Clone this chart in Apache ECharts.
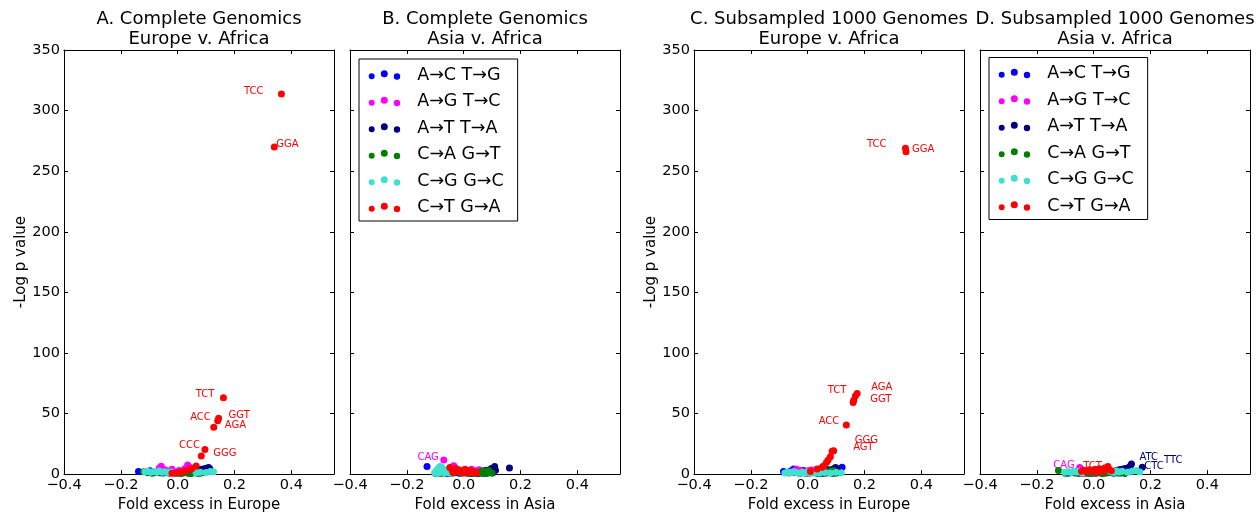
<!DOCTYPE html>
<html>
<head>
<meta charset="utf-8">
<title>Mutation type excess by population</title>
<script src="https://cdn.jsdelivr.net/npm/echarts@6/dist/echarts.min.js"></script>
<style>
  html, body { margin: 0; padding: 0; background: #fff; }
  #chart { width: 1257px; height: 518px; }
</style>
</head>
<body>
<div id="chart"></div>
<script>
// Mutation classes (strand-collapsed) and their marker colours
const typeKeys = ['AC', 'AG', 'AT', 'CA', 'CG', 'CT'];
const typeNames = ['A→C T→G', 'A→G T→C', 'A→T T→A', 'C→A G→T', 'C→G G→C', 'C→T G→A'];
const typeColors = ['#0000ff', '#ff00ff', '#000080', '#008000', '#40e0d0', '#ff0000'];

// Axis ranges and tick steps
const xMin = -0.4, xMax = 0.55, xStep = 0.2;
const yMin = 0, yMax = 350, yStep = 50;

// ---- A. Complete Genomics, Europe v. Africa : [fold excess, -log p]
const cgEurAC = [[-0.138,2.2],[-0.097,2.7],[-0.085,1.2],[-0.07,1.8],[-0.05,1.0],[-0.04,2.4],[-0.025,1.5],[-0.01,0.8],[0.0,1.6],[0.012,0.6],[0.02,2.0],[0.035,1.2],[0.045,0.7],[0.06,1.8],[0.075,1.0],[0.09,2.2]];
const cgEurAG = [[-0.058,6.5],[-0.065,4.8],[-0.045,3.5],[-0.03,2.4],[-0.02,4.0],[-0.005,1.8],[0.005,3.0],[0.015,2.2],[0.025,4.5],[0.035,7.5],[0.042,5.6],[0.05,3.8],[0.055,2.6],[0.03,1.4],[-0.012,1.0],[0.068,2.0]];
const cgEurAT = [[0.05,1.5],[0.06,2.5],[0.07,3.2],[0.075,2.0],[0.08,3.8],[0.085,2.8],[0.09,4.2],[0.095,3.0],[0.1,4.8],[0.105,3.6],[0.109,5.4],[0.1,2.2],[0.088,1.4],[0.07,1.0],[0.04,0.8],[0.113,4.4]];
const cgEurCA = [[-0.12,2.0],[-0.105,1.2],[-0.09,0.8],[-0.06,1.0],[-0.03,0.6],[0.0,0.8],[0.02,1.0],[0.04,0.9],[0.06,1.5],[0.065,0.9],[0.072,1.3],[0.08,0.7],[-0.045,1.4],[0.01,0.5],[0.05,0.6],[0.03,1.2]];
const cgEurCG = [[-0.115,2.0],[-0.105,2.4],[-0.095,1.6],[-0.085,2.2],[-0.075,1.8],[-0.065,2.6],[-0.055,1.5],[-0.045,2.0],[-0.035,1.3],[-0.025,1.8],[-0.015,1.0],[0.065,1.2],[0.08,1.6],[0.1,1.4],[0.115,2.2],[0.126,1.9]];
const cgEurCT = [[-0.02,0.8],[-0.005,1.2],[0.01,1.6],[0.02,2.2],[0.03,2.8],[0.04,3.6],[0.05,4.6],[0.065,6.7]];
const cgEurTags = [['TCC','CT',0.365,313.7],['GGA','CT',0.34,270],['TCT','CT',0.161,63],['GGT','CT',0.144,46],['ACC','CT',0.141,44],['AGA','CT',0.127,38.7],['CCC','CT',0.096,20.3],['GGG','CT',0.083,14.9]];

// ---- B. Complete Genomics, Asia v. Africa
const cgAsiAC = [[-0.129,6.2],[-0.09,1.0],[-0.07,1.6],[-0.05,0.8],[-0.03,1.4],[-0.015,0.6],[0.0,1.0],[0.015,1.8],[0.025,0.7],[0.04,1.2],[0.05,0.5],[0.065,1.0],[-0.06,0.5],[-0.1,0.7],[0.08,0.6],[0.03,0.4]];
const cgAsiAG = [[-0.035,6.8],[0.028,4.0],[0.054,3.5],[-0.05,3.2],[-0.025,4.2],[-0.01,2.5],[0.005,3.0],[0.015,2.0],[0.04,2.6],[-0.06,2.0],[0.065,1.6],[-0.04,1.4],[0.0,1.2],[0.035,1.0],[0.045,1.8]];
const cgAsiAT = [[0.109,6.2],[0.103,4.0],[0.161,5.1],[0.068,2.2],[0.075,3.0],[0.085,2.5],[0.09,3.6],[0.095,2.0],[0.1,2.8],[0.06,1.4],[0.08,1.2],[0.105,1.6],[0.05,0.8],[0.07,0.6],[0.112,3.2],[0.098,4.6]];
const cgAsiCA = [[0.056,0.8],[0.088,3.0],[0.06,1.8],[0.07,1.2],[0.078,2.2],[0.092,1.4],[0.04,0.6],[0.03,1.0],[0.015,0.5],[-0.01,0.8],[-0.04,0.6],[-0.08,0.5],[0.082,0.8],[0.1,0.6],[0.05,1.4],[0.065,2.6]];
const cgAsiCG = [[-0.102,1.2],[-0.097,2.6],[-0.092,3.8],[-0.088,5.0],[-0.083,6.2],[-0.078,5.6],[-0.073,4.6],[-0.068,3.6],[-0.063,2.8],[-0.057,2.0],[-0.052,1.4],[-0.047,0.8],[-0.085,1.2],[-0.075,2.0],[-0.065,1.0],[-0.095,0.6]];
const cgAsiCT = [[-0.049,5.4],[-0.042,4.0],[-0.035,3.0],[-0.028,4.6],[-0.022,2.2],[-0.015,3.4],[-0.008,1.6],[0.0,2.6],[0.008,1.2],[0.015,2.0],[0.022,3.0],[0.03,1.4],[0.038,2.2],[0.045,1.0],[-0.038,1.4],[0.005,4.0]];
const cgAsiTags = [['CAG','AG',-0.07,11.6]];

// ---- C. Subsampled 1000 Genomes, Europe v. Africa
const kgEurAC = [[-0.085,2.2],[-0.049,4.3],[-0.07,1.4],[-0.06,2.6],[-0.03,1.8],[-0.015,3.0],[0.0,1.2],[0.015,2.4],[0.03,1.6],[0.045,3.2],[0.06,2.0],[0.075,3.6],[0.09,2.8],[0.105,4.0],[0.121,5.6],[0.115,3.0]];
const kgEurAG = [[-0.04,4.0],[-0.03,3.2],[-0.02,2.4],[-0.055,2.0],[-0.01,1.6],[0.0,2.8],[0.01,1.2],[0.02,2.0],[0.03,1.0],[-0.045,1.2],[0.04,1.6],[-0.065,1.0],[0.05,0.8],[-0.025,0.8],[0.012,3.4],[-0.005,0.6]];
const kgEurAT = [[0.098,5.4],[0.09,4.2],[0.085,3.0],[0.08,2.0],[0.07,3.4],[0.075,1.2],[0.1,3.2],[0.105,2.2],[0.095,1.4],[0.06,2.4],[0.065,1.0],[0.11,1.4],[0.05,1.6],[0.088,0.8],[0.055,0.6],[0.102,4.4]];
const kgEurCA = [[0.09,3.0],[0.085,2.0],[0.078,2.6],[0.07,1.6],[0.062,2.2],[0.055,1.2],[0.045,1.8],[0.035,0.8],[0.02,1.2],[0.005,0.6],[-0.01,1.0],[-0.03,0.6],[0.095,1.2],[0.1,0.6],[0.05,2.8],[0.04,0.4]];
const kgEurCG = [[-0.08,1.0],[-0.07,1.8],[-0.06,1.2],[-0.05,2.0],[-0.04,1.4],[-0.03,0.8],[-0.02,1.6],[-0.01,1.0],[0.0,1.8],[0.01,0.8],[0.025,1.4],[0.04,1.0],[0.06,1.4],[0.08,1.0],[0.1,1.6],[0.118,1.2]];
const kgEurCT = [[0.162,61],[0.08,14.4],[0.072,11.6],[0.066,9.5],[0.056,6.7],[0.051,5.7],[0.033,4.3],[0.0095,2.2]];
const kgEurTags = [['TCC','CT',0.344,269],['GGA','CT',0.346,266],['AGA','CT',0.174,66.6],['TCT','CT',0.168,64.4],['GGT','CT',0.16,59],['ACC','CT',0.136,40.6],['GGG','CT',0.0915,19.2],['AGT','CT',0.086,18.9]];

// ---- D. Subsampled 1000 Genomes, Asia v. Africa
const kgAsiAC = [[-0.09,0.8],[-0.07,1.2],[-0.05,0.6],[-0.03,1.0],[-0.01,0.5],[0.01,0.9],[0.03,0.6],[0.05,1.1],[0.07,0.7],[0.09,1.2],[0.11,0.8],[0.02,1.4],[-0.02,1.6],[0.06,1.6],[0.1,1.5],[-0.06,1.5]];
const kgAsiAG = [[-0.06,2.0],[-0.04,3.0],[-0.03,1.6],[-0.02,2.4],[-0.01,1.2],[0.0,2.0],[0.01,1.0],[-0.055,1.0],[0.02,1.6],[0.03,0.8],[-0.035,0.8],[0.04,1.2],[-0.015,0.6],[0.005,0.4],[-0.045,1.8]];
const kgAsiAT = [[0.08,3.0],[0.085,2.0],[0.09,3.6],[0.095,2.4],[0.1,4.0],[0.105,2.8],[0.11,4.6],[0.115,3.4],[0.12,5.0],[0.125,3.8],[0.072,1.6],[0.095,1.0],[0.118,2.0]];
const kgAsiCA = [[-0.124,3.0],[-0.1,0.8],[-0.08,1.2],[-0.06,0.6],[-0.04,1.0],[-0.02,0.5],[0.0,0.8],[0.02,1.2],[0.04,0.6],[0.06,1.4],[0.075,2.0],[0.085,1.0],[0.095,1.6],[0.05,1.8],[0.03,0.5],[0.11,0.8]];
const kgAsiCG = [[-0.102,1.6],[-0.09,2.2],[-0.08,1.4],[-0.07,2.4],[-0.06,1.8],[-0.05,2.6],[-0.04,1.2],[0.06,2.2],[0.07,1.4],[0.08,2.6],[0.09,1.8],[0.1,2.4],[0.12,1.6],[0.135,2.4],[0.15,3.0],[0.162,1.8]];
const kgAsiCT = [[-0.043,2.4],[-0.035,3.2],[-0.025,2.0],[-0.015,3.6],[-0.005,2.6],[0.005,4.0],[0.012,3.0],[0.02,4.4],[0.028,3.4],[0.035,2.2],[0.045,4.6],[0.05,6.2],[0.055,3.8],[0.062,2.8],[0.01,1.6]];
const kgAsiTags = [['CAG','AG',-0.049,5.4],['TCT','CT',0.039,5.0],['ATC','AT',0.133,8.4],['TTC','AT',0.128,6.5],['CTC','AT',0.171,5.7]];

// Where each context label sits relative to its point: [anchor, dx px, dy px]
const tagPlacement = {
  A: { TCC: ['right', -18, -3], GGA: ['left', 2, -3], TCT: ['right', -9, -3], GGT: ['left', 10, -3],
       ACC: ['right', -7, -3], AGA: ['left', 11, -2], CCC: ['right', -5, -4], GGG: ['left', 12, -3] },
  B: { CAG: ['right', -5, -3] },
  C: { TCC: ['right', -19, -4], GGA: ['left', 6, -2], TCT: ['right', -9, -6], AGA: ['left', 14, -6],
       GGT: ['left', 17, -3], ACC: ['right', -7, -3], GGG: ['left', 21, -10], AGT: ['left', 21, -4] },
  D: { CAG: ['right', -5, -2], TCT: ['right', -3, -2], ATC: ['left', 8, -7], TTC: ['left', 34, -6], CTC: ['left', 2, -1] }
};

const FONT = 'DejaVu Sans';
const gridTop = 50, gridHeight = 431, gridWidth = 270;

const panels = [
  { id: 'A', title: 'A. Complete Genomics\nEurope v. Africa', xName: 'Fold excess in Europe', left: 64, yLabels: true,
    sets: [cgEurAC, cgEurAG, cgEurAT, cgEurCA, cgEurCG, cgEurCT], tags: cgEurTags },
  { id: 'B', title: 'B. Complete Genomics\nAsia v. Africa', xName: 'Fold excess in Asia', left: 350, yLabels: false,
    sets: [cgAsiAC, cgAsiAG, cgAsiAT, cgAsiCA, cgAsiCG, cgAsiCT], tags: cgAsiTags, legend: { left: 359, top: 59 } },
  { id: 'C', title: 'C. Subsampled 1000 Genomes\nEurope v. Africa', xName: 'Fold excess in Europe', left: 694, yLabels: true,
    sets: [kgEurAC, kgEurAG, kgEurAT, kgEurCA, kgEurCG, kgEurCT], tags: kgEurTags },
  { id: 'D', title: 'D. Subsampled 1000 Genomes\nAsia v. Africa', xName: 'Fold excess in Asia', left: 980, yLabels: false,
    sets: [kgAsiAC, kgAsiAG, kgAsiAT, kgAsiCA, kgAsiCG, kgAsiCT], tags: kgAsiTags, legend: { left: 989, top: 57.5 } }
];

const fmtX = v => (v < 0 ? '\u2212' : '') + Math.abs(v).toFixed(1);
const axisLine = { show: true, onZero: false, lineStyle: { color: '#000', width: 1 } };
const tick = { show: true, inside: true, length: 4, lineStyle: { color: '#000', width: 1 } };

// Three graded dots, as a legend key
const dotsIcon = 'path://M0,5.9A3,3 0 1,0 6,5.9A3,3 0 1,0 0,5.9Z' +
  'M12.1,3.5A3.5,3.5 0 1,0 19.1,3.5A3.5,3.5 0 1,0 12.1,3.5Z' +
  'M25.1,6.2A3.2,3.2 0 1,0 31.5,6.2A3.2,3.2 0 1,0 25.1,6.2Z';

const grid = [], xAxis = [], yAxis = [], series = [], title = [], legend = [];

panels.forEach((p, i) => {
  grid.push({ left: p.left, top: gridTop, width: gridWidth, height: gridHeight, containLabel: false });
  title.push({
    text: p.title, left: p.left + gridWidth / 2, top: 10, textAlign: 'center', padding: 0,
    textStyle: { fontFamily: FONT, fontSize: 18, fontWeight: 'normal', color: '#000', lineHeight: 19.5 }
  });
  // bottom + top x axes
  xAxis.push({
    gridIndex: i, type: 'value', min: xMin, max: xMax, interval: xStep, position: 'bottom',
    name: p.xName, nameLocation: 'middle', nameGap: 20,
    nameTextStyle: { fontFamily: FONT, fontSize: 15, color: '#000' },
    axisLine, axisTick: tick, splitLine: { show: false },
    axisLabel: { formatter: fmtX, margin: 4, showMaxLabel: false, fontFamily: FONT, fontSize: 14.5, color: '#000' }
  });
  xAxis.push({
    gridIndex: i, type: 'value', min: xMin, max: xMax, interval: xStep, position: 'top',
    axisLine, axisTick: tick, splitLine: { show: false }, axisLabel: { show: false }
  });
  // left + right y axes
  yAxis.push({
    gridIndex: i, type: 'value', min: yMin, max: yMax, interval: yStep, position: 'left',
    name: p.yLabels ? '-Log p value' : '', nameLocation: 'middle', nameGap: 31,
    nameTextStyle: { fontFamily: FONT, fontSize: 15, color: '#000' },
    axisLine, axisTick: tick, splitLine: { show: false },
    axisLabel: { show: p.yLabels, margin: 4, fontFamily: FONT, fontSize: 14.5, color: '#000' }
  });
  yAxis.push({
    gridIndex: i, type: 'value', min: yMin, max: yMax, interval: yStep, position: 'right',
    axisLine, axisTick: tick, splitLine: { show: false }, axisLabel: { show: false }
  });

  typeKeys.forEach((k, t) => {
    const data = p.sets[t].map(v => ({ value: v }));
    p.tags.filter(g => g[1] === k).forEach(g => {
      const pl = tagPlacement[p.id][g[0]];
      data.push({
        value: [g[2], g[3]],
        label: {
          show: true, formatter: g[0], position: 'inside', align: pl[0], verticalAlign: 'middle',
          offset: [pl[1], pl[2]], color: typeColors[t], fontFamily: FONT, fontSize: 10
        }
      });
    });
    series.push({
      type: 'scatter', name: typeNames[t], xAxisIndex: 2 * i, yAxisIndex: 2 * i,
      symbol: 'circle', symbolSize: 7, itemStyle: { color: typeColors[t], opacity: 1 },
      emphasis: { disabled: true }, data, z: 2 + t
    });
  });

  if (p.legend) {
    legend.push({
      data: typeNames, orient: 'vertical', left: p.legend.left, top: p.legend.top,
      icon: dotsIcon, itemWidth: 31.5, itemHeight: 9.4, itemGap: 6.5,
      padding: [6, 14, 3.5, 9.7], backgroundColor: '#fff', borderColor: '#000', borderWidth: 1,
      selectedMode: false,
      textStyle: { fontFamily: FONT, fontSize: 17.5, color: '#000', lineHeight: 20, padding: [0, 0, 0, 12] }
    });
  }
});

const chart = echarts.init(document.getElementById('chart'), null, { renderer: 'canvas' });
chart.setOption({
  animation: false, backgroundColor: '#fff',
  title, legend, grid, xAxis, yAxis, series
});
</script>
</body>
</html>
